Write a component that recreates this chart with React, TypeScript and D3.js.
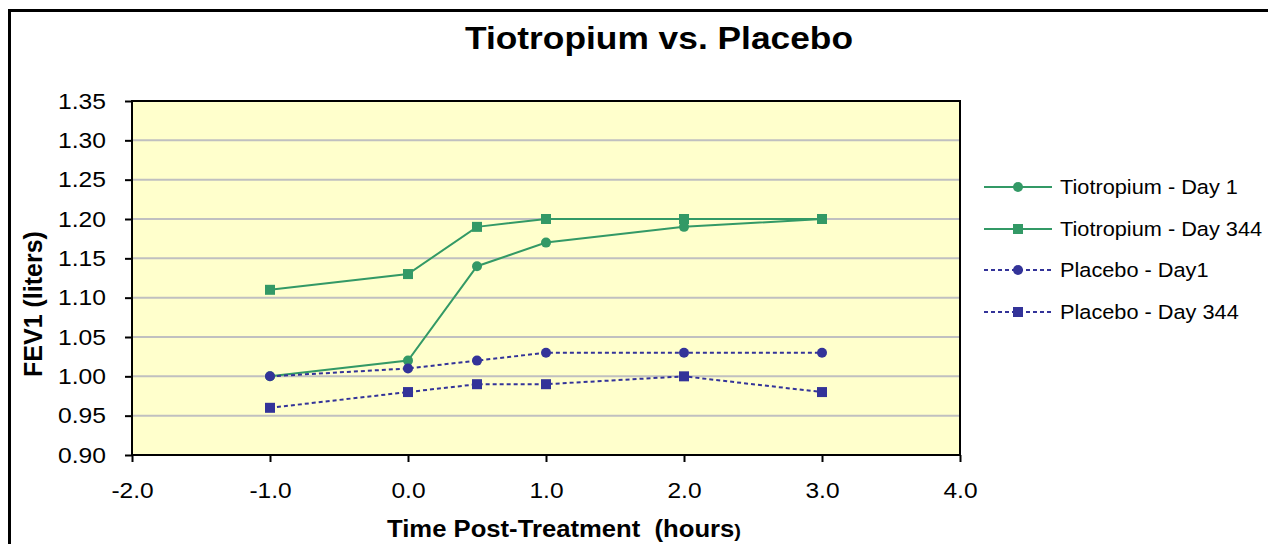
import React, { useRef, useEffect } from 'react';
import * as d3 from 'd3';

const hours = [-1, 0, 0.5, 1, 2, 3];
const tioDay1 = [1.0, 1.02, 1.14, 1.17, 1.19, 1.2];
const tioDay344 = [1.11, 1.13, 1.19, 1.2, 1.2, 1.2];
const placeboDay1 = [1.0, 1.01, 1.02, 1.03, 1.03, 1.03];
const placeboDay344 = [0.96, 0.98, 0.99, 0.99, 1.0, 0.98];
const xTicks = [-2, -1, 0, 1, 2, 3, 4];
const yTicks = [0.9, 0.95, 1.0, 1.05, 1.1, 1.15, 1.2, 1.25, 1.3, 1.35];
const seriesNames = ['Tiotropium - Day 1', 'Tiotropium - Day 344', 'Placebo - Day1', 'Placebo - Day 344'];

const green = '#339966';
const blue = '#333399';

const series = [
  { name: seriesNames[0], values: tioDay1, color: green, dash: null, marker: 'circle' },
  { name: seriesNames[1], values: tioDay344, color: green, dash: null, marker: 'square' },
  { name: seriesNames[2], values: placeboDay1, color: blue, dash: '4,3', marker: 'circle' },
  { name: seriesNames[3], values: placeboDay344, color: blue, dash: '4,3', marker: 'square' },
];

// widen text a bit, the original rendering is horizontally stretched
function stretch(sel: any, k: number) {
  sel.each(function (this: SVGTextElement) {
    const len = this.getComputedTextLength();
    d3.select(this).attr('textLength', len * k).attr('lengthAdjust', 'spacingAndGlyphs');
  });
}

const App = () => {
  const svgRef = useRef<SVGSVGElement>(null);

  useEffect(() => {
    const svg = d3.select(svgRef.current);
    svg.selectAll('*').remove();

    const W = 1268, H = 544;
    const left = 132, right = 960, top = 101, bottom = 455;
    const font = 'Liberation Sans, Arial, sans-serif';

    svg.append('rect').attr('width', W).attr('height', H).attr('fill', '#fff');
    // outer chart border (runs past the right and bottom edges)
    svg.append('rect')
      .attr('x', 9.5).attr('y', 10.5).attr('width', W + 20).attr('height', H + 20)
      .attr('fill', 'none').attr('stroke', '#000').attr('stroke-width', 3);

    const x = d3.scaleLinear().domain([-2, 4]).range([left, right]);
    const y = d3.scaleLinear().domain([0.9, 1.35]).range([bottom, top]);

    svg.append('rect')
      .attr('x', left).attr('y', top).attr('width', right - left).attr('height', bottom - top)
      .attr('fill', '#ffffcc');

    svg.append('g').selectAll('line')
      .data(yTicks.slice(1, -1))
      .join('line')
      .attr('x1', left).attr('x2', right)
      .attr('y1', d => y(d)).attr('y2', d => y(d))
      .attr('stroke', '#c0c0c0').attr('stroke-width', 2);

    svg.append('rect')
      .attr('x', left).attr('y', top).attr('width', right - left).attr('height', bottom - top)
      .attr('fill', 'none').attr('stroke', '#000').attr('stroke-width', 2);

    // y axis
    const yAxis = svg.append('g')
      .attr('transform', `translate(${left},0)`)
      .call(d3.axisLeft(y).tickValues(yTicks).tickFormat(d => (+d).toFixed(2)).tickSize(7).tickPadding(19));
    yAxis.select('.domain').remove();
    yAxis.selectAll('line').attr('stroke', '#000').attr('stroke-width', 2);
    yAxis.selectAll('text').attr('font-family', font).attr('font-size', 22).attr('fill', '#000');
    stretch(yAxis.selectAll('text'), 1.12);

    // x axis
    const xAxis = svg.append('g')
      .attr('transform', `translate(0,${bottom})`)
      .call(d3.axisBottom(x).tickValues(xTicks).tickFormat(d => (+d).toFixed(1)).tickSize(7).tickPadding(12));
    xAxis.select('.domain').remove();
    xAxis.selectAll('line').attr('stroke', '#000').attr('stroke-width', 2);
    xAxis.selectAll('text')
      .attr('font-family', font).attr('font-size', 21.5).attr('fill', '#000')
      .attr('y', 43).attr('dy', 0);
    stretch(xAxis.selectAll('text'), 1.14);

    const line = d3.line<number>().x((_, i) => x(hours[i])).y(d => y(d));

    function drawMarker(g: any, m: string, cx: number, cy: number, c: string) {
      if (m === 'circle') {
        g.append('circle').attr('cx', cx).attr('cy', cy).attr('r', 5).attr('fill', c);
      } else {
        g.append('rect').attr('x', cx - 5).attr('y', cy - 5).attr('width', 10).attr('height', 10).attr('fill', c);
      }
    }

    series.forEach(s => {
      svg.append('path')
        .attr('d', line(s.values))
        .attr('fill', 'none')
        .attr('stroke', s.color)
        .attr('stroke-width', 2)
        .attr('stroke-dasharray', s.dash);
      const g = svg.append('g');
      s.values.forEach((v, i) => {
        drawMarker(g, s.marker, x(hours[i]), y(v), s.color);
      });
    });

    // legend
    const legendY = [187, 229, 270, 312];
    series.forEach((s, i) => {
      const ly = legendY[i];
      svg.append('line')
        .attr('x1', 984).attr('x2', 1052).attr('y1', ly).attr('y2', ly)
        .attr('stroke', s.color).attr('stroke-width', 2).attr('stroke-dasharray', s.dash);
      drawMarker(svg, s.marker, 1018, ly, s.color);
      const t = svg.append('text')
        .attr('x', 1060).attr('y', ly + 7)
        .attr('font-family', font).attr('font-size', 20.5)
        .text(s.name);
      stretch(t, 1.06);
    });

    const title = svg.append('text')
      .attr('x', 659).attr('y', 49)
      .attr('text-anchor', 'middle')
      .attr('font-family', font).attr('font-size', 32).attr('font-weight', 'bold')
      .text('Tiotropium vs. Placebo');
    title.attr('textLength', 388).attr('lengthAdjust', 'spacingAndGlyphs');

    const xl = svg.append('text')
      .attr('x', 564).attr('y', 537)
      .attr('text-anchor', 'middle')
      .attr('font-family', font).attr('font-size', 23).attr('font-weight', 'bold')
      .style('white-space', 'pre');
    xl.append('tspan').text('Time Post-Treatment  (hours');
    xl.append('tspan').attr('font-size', 18).text(')');
    xl.attr('textLength', 354).attr('lengthAdjust', 'spacingAndGlyphs');

    svg.append('text')
      .attr('transform', `translate(42,${304}) rotate(-90)`)
      .attr('text-anchor', 'middle')
      .attr('font-family', font).attr('font-size', 25).attr('font-weight', 'bold')
      .text('FEV1 (liters)');
  }, []);

  return (
    <svg ref={svgRef} width={1268} height={544} style={{ position: 'absolute', left: 0, top: 0 }}></svg>
  );
};

export default App;
